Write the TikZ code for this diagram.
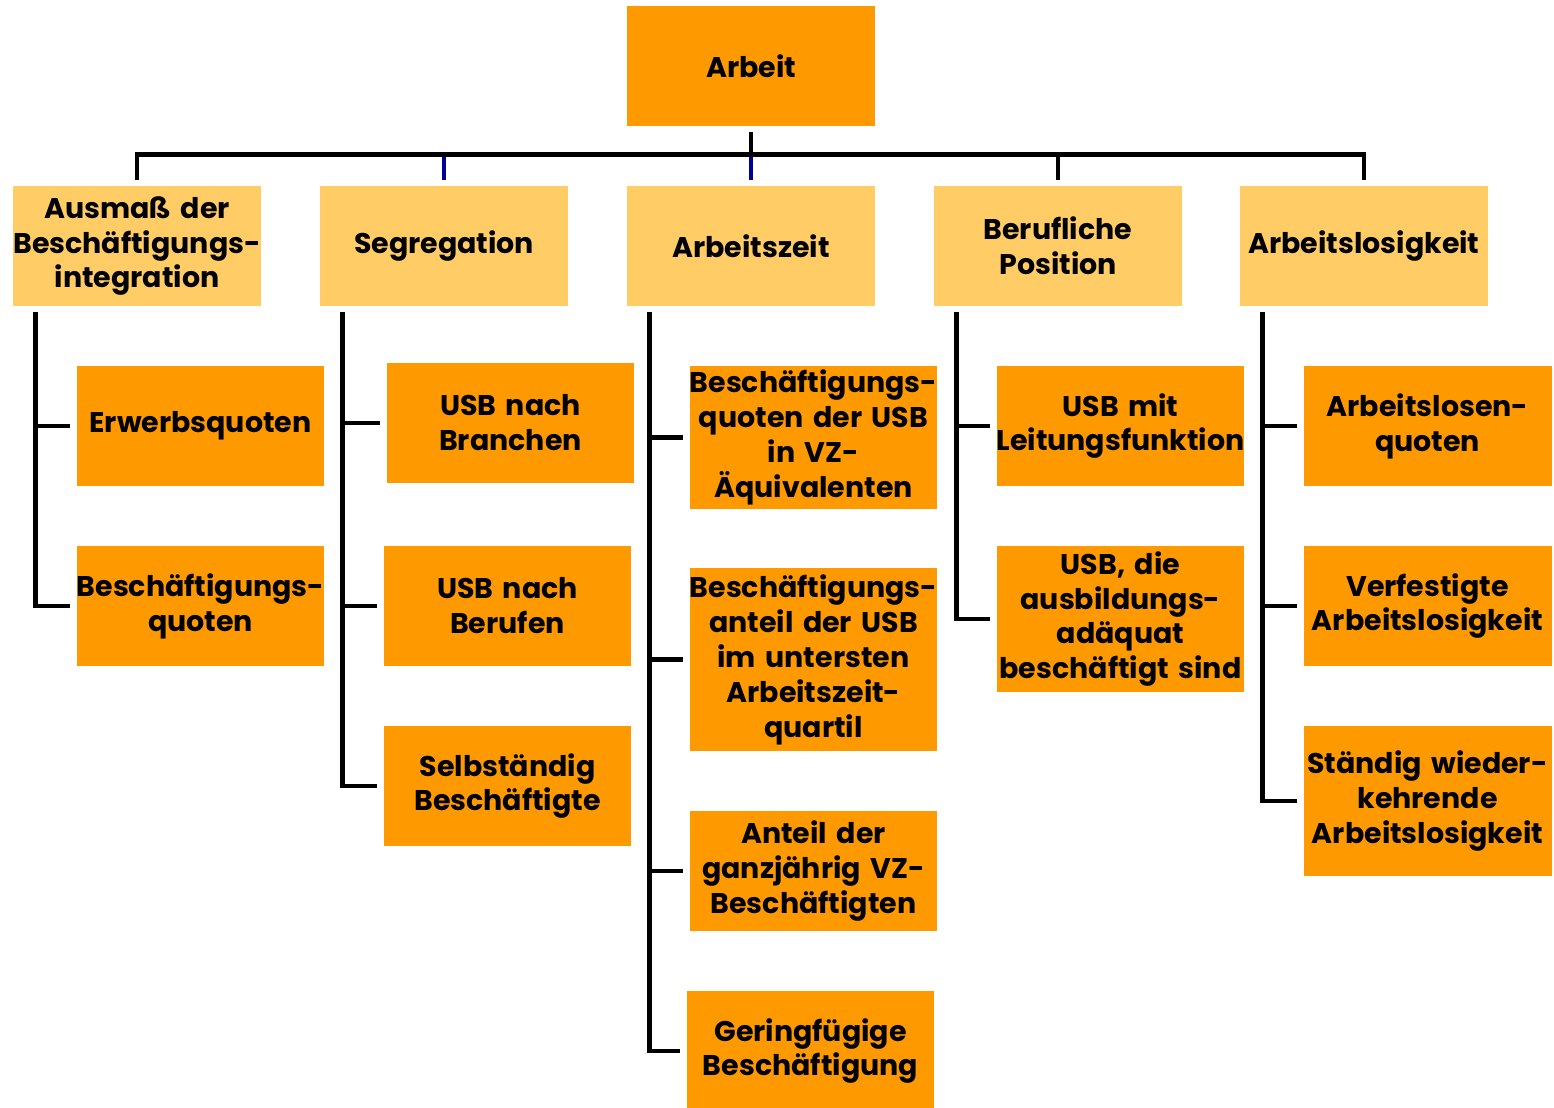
\documentclass[tikz,border=0pt]{standalone}
\usepackage{fontspec}
\setmainfont{Poppins}
\usetikzlibrary{calc}
\definecolor{dunkelorange}{HTML}{FF9900}
\definecolor{hellorange}{HTML}{FFCC66}
\definecolor{strichblau}{HTML}{000099}

\begin{document}
\begin{tikzpicture}[x=0.02cm, y=-0.02cm,
  box/.style={inner sep=0pt, text width=4.96cm, minimum height=2.4cm, align=center,
    font=\bfseries\fontsize{16.2}{19.9}\selectfont},
  oben/.style={box, fill=dunkelorange},
  thema/.style={box, fill=hellorange},
  item/.style={box, fill=dunkelorange},
  conn/.style={line width=2.6pt}]
\useasboundingbox (0,0) rectangle (1554,1107);
% oberste Ebene
\node[oben] (arbeit) at (751,66) {Arbeit};
% Themen
\node[thema] (ausmass) at (137,246) {Ausmaß der\\Beschäftigungs-\\integration};
\node[thema] (segregation) at (444,246) {Segregation};
\node[thema] (arbeitszeit) at (751,246) {Arbeitszeit};
\node[thema] (position) at (1058,246) {Berufliche\\Position};
\node[thema] (arbeitslos) at (1364,246) {Arbeitslosigkeit};
% Indikatoren
\node[item] (erwerb) at (200.5,426) {Erwerbsquoten};
\node[item] (besch) at (200.5,606) {Beschäftigungs-\\quoten};
\node[item] (branchen) at (510.5,423) {USB nach\\Branchen};
\node[item] (berufen) at (507.5,606) {USB nach\\Berufen};
\node[item] (selbst) at (507.5,786) {Selbständig\\Beschäftigte};
\node[item, minimum height=2.86cm] (vzaeq) at (813.5,437.5) {Beschäftigungs-\\quoten der USB\\in VZ-\\Äquivalenten};
\node[item, minimum height=3.66cm] (anteil) at (813.5,659.5) {Beschäftigungs-\\anteil der USB\\im untersten\\Arbeitszeit-\\quartil};
\node[item] (ganzj) at (813.5,871) {Anteil der\\ganzjährig VZ-\\Beschäftigten};
\node[item] (gering) at (810.5,1051) {Geringfügige\\Beschäftigung};
\node[item] (leitung) at (1120.5,426) {USB mit\\Leitungsfunktion};
\node[item, minimum height=2.92cm] (adaequat) at (1120.5,619) {USB, die\\ausbildungs-\\adäquat\\beschäftigt sind};
\node[item] (alquote) at (1427.5,426) {Arbeitslosen-\\quoten};
\node[item] (verfest) at (1427.5,606) {Verfestigte\\Arbeitslosigkeit};
\node[item, minimum height=3cm] (staendig) at (1427.5,801) {Ständig wieder-\\kehrende\\Arbeitslosigkeit};
% Verbindungen
\foreach \t in {segregation,arbeitszeit}
{	\draw[conn, strichblau] ([shift={(0,-6)}]\t.north) -- ([shift={(0,-29)}]\t.north);
}
\draw[conn] ([shift={(0,-6)}]ausmass.north) |- ([shift={(0,-31)}]arbeitslos.north) -- ([shift={(0,-6)}]arbeitslos.north);
\draw[conn] ([shift={(0,-6)}]position.north) -- ([shift={(0,-31)}]position.north);
\draw[conn] ([shift={(0,6)}]arbeit.south) -- ([shift={(0,-31)}]arbeitszeit.north);
\foreach \t/\i in {ausmass/erwerb, ausmass/besch, segregation/branchen, segregation/berufen,
  segregation/selbst, arbeitszeit/vzaeq, arbeitszeit/anteil, arbeitszeit/ganzj, arbeitszeit/gering,
  position/leitung, position/adaequat, arbeitslos/alquote, arbeitslos/verfest, arbeitslos/staendig}
{	\draw[conn] ([shift={(23,6)}]\t.south west) |- ([shift={(-6,0)}]\i.west);
}
\end{tikzpicture}
\end{document}
